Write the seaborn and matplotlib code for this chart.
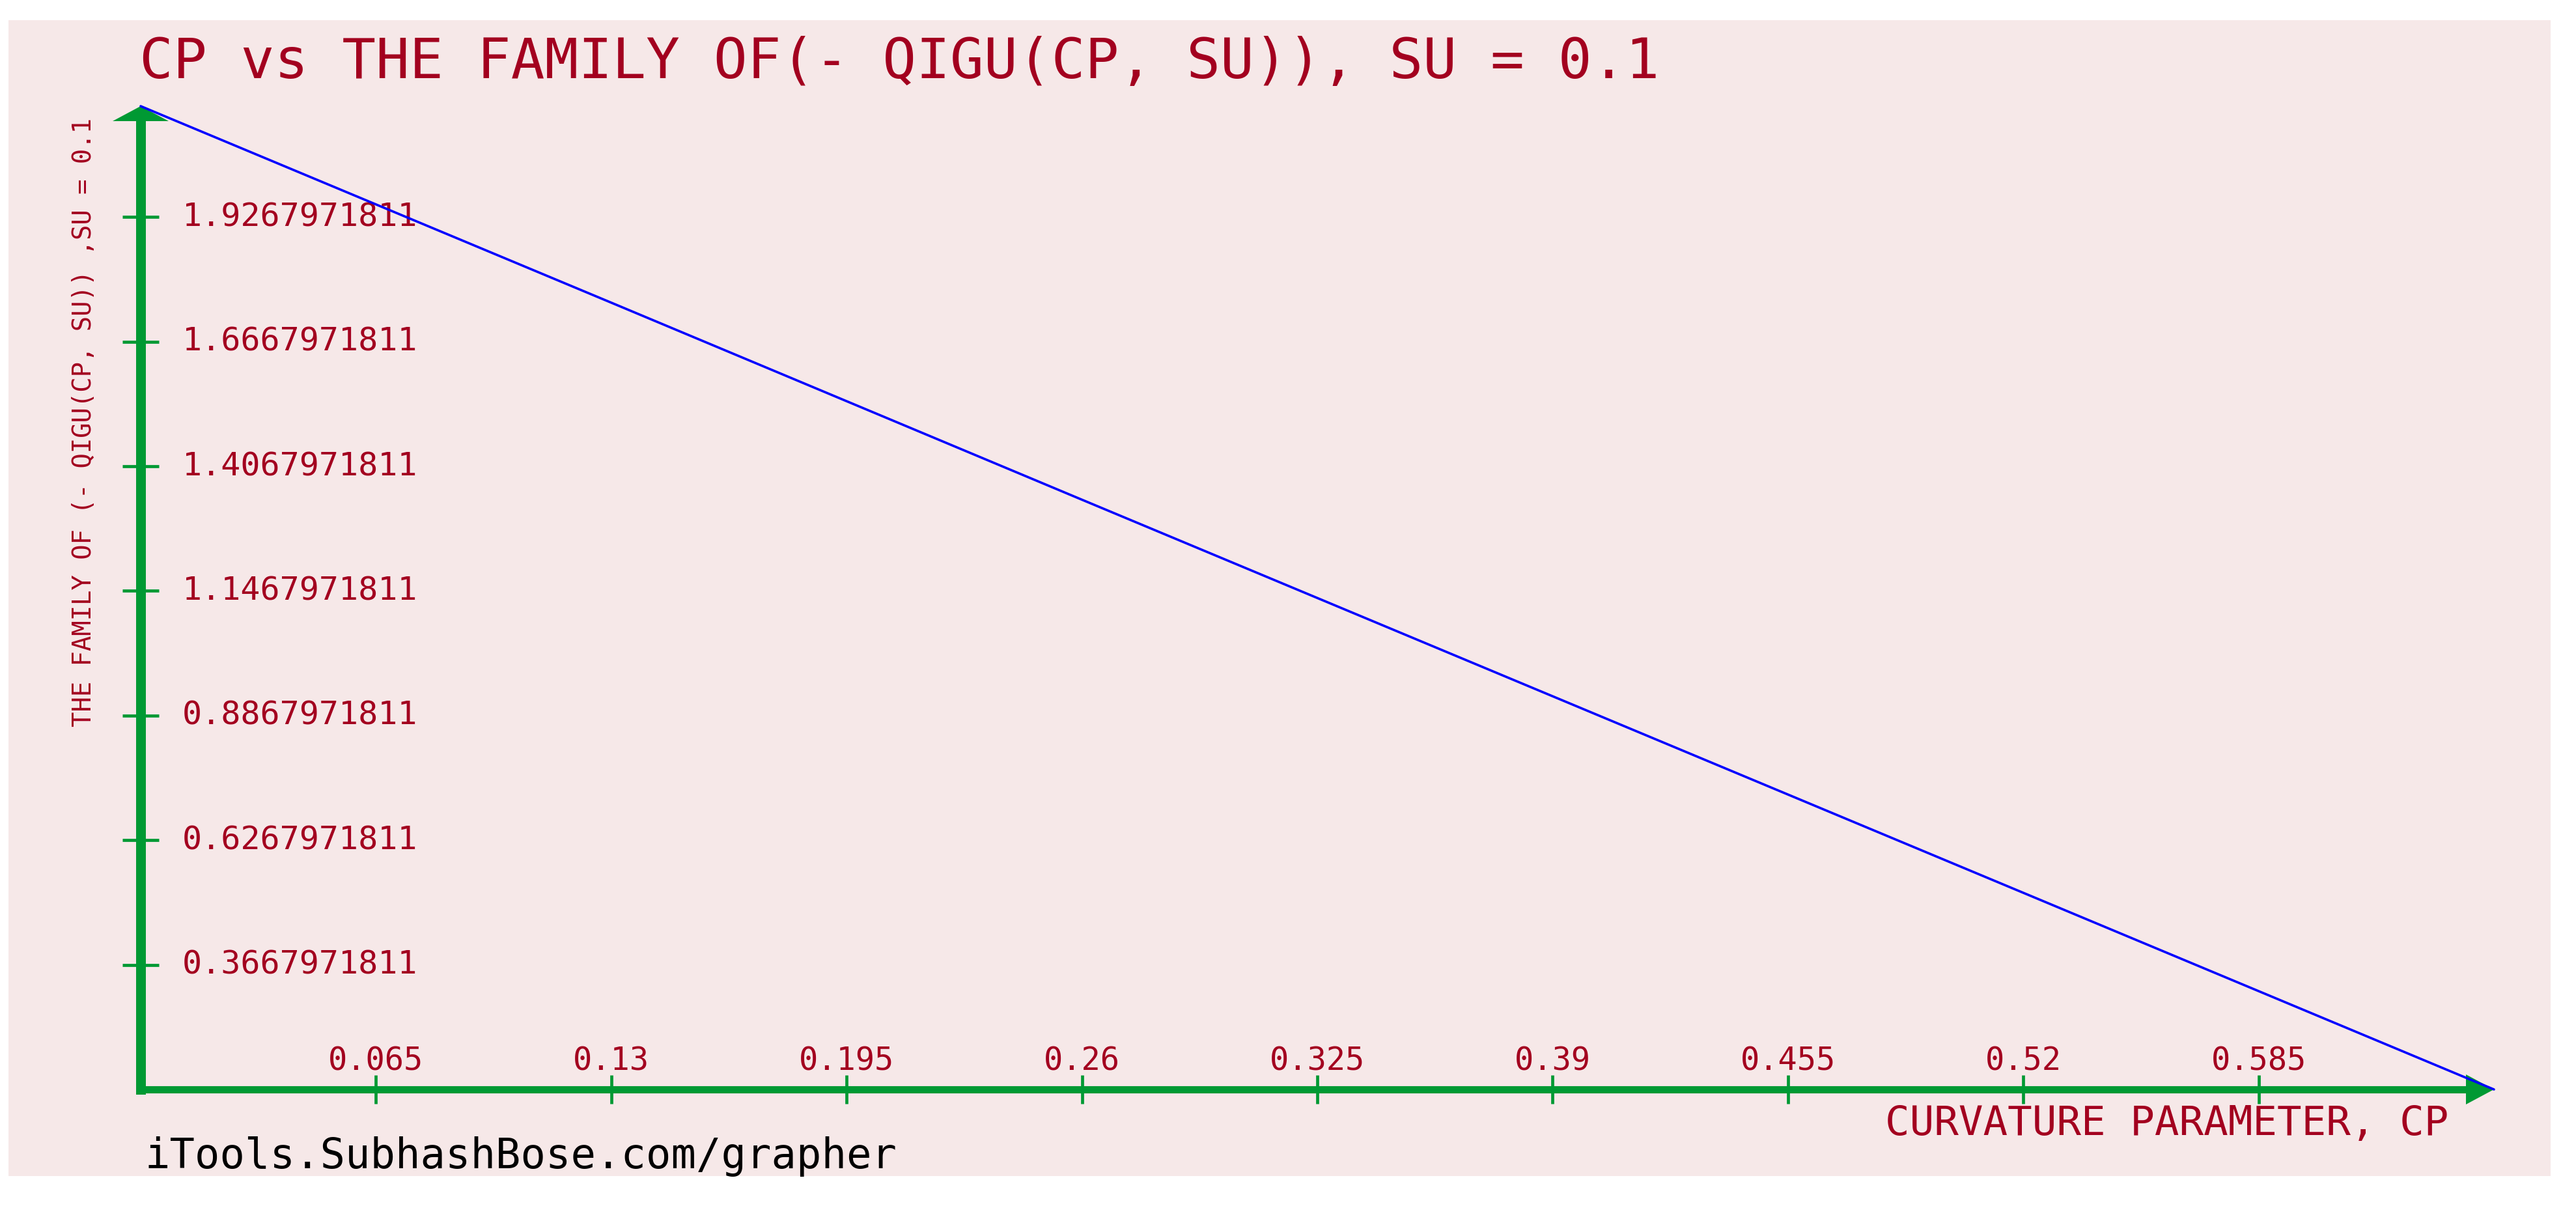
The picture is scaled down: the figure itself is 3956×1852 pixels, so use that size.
import matplotlib
matplotlib.use("Agg")
import matplotlib.pyplot as plt
import seaborn as sns
import pandas as pd
from matplotlib.patches import Polygon, Rectangle

# values
cp = [0.0, 0.13, 0.26, 0.39, 0.52, 0.65]
family_val = [2.158, 1.748, 1.337, 0.927, 0.517, 0.1068]

x_ticks = [0.065, 0.13, 0.195, 0.26, 0.325, 0.39, 0.455, 0.52, 0.585]
x_tick_labels = ["0.065", "0.13", "0.195", "0.26", "0.325", "0.39", "0.455", "0.52", "0.585"]
y_ticks = [0.3667971811, 0.6267971811, 0.8867971811, 1.1467971811,
           1.4067971811, 1.6667971811, 1.9267971811]
y_tick_labels = ["0.3667971811", "0.6267971811", "0.8867971811", "1.1467971811",
                 "1.4067971811", "1.6667971811", "1.9267971811"]
x_lim = (0.0, 0.65)
y_lim = (0.1068, 2.158)

title = "CP vs THE FAMILY OF(- QIGU(CP, SU)), SU = 0.1"
x_label = "CURVATURE PARAMETER, CP"
y_label = "THE FAMILY OF (- QIGU(CP, SU)) ,SU = 0.1"
watermark = "iTools.SubhashBose.com/grapher"

RED = "#A3001F"
GREEN = "#009933"
PINK = "#F6E8E8"

sns.set_style("white")
plt.rcParams["font.family"] = ["DejaVu Sans Mono", "DejaVu Sans"]

W, H = 3956, 1852
fig = plt.figure(figsize=(W / 100, H / 100), dpi=100, facecolor="white")


def fx(px):
    return px / W


def fy(py):
    return 1 - py / H


# pink panel
fig.add_artist(Rectangle((fx(13), fy(1806)), fx(3917) - fx(13), (1806 - 31) / H,
                         transform=fig.transFigure, facecolor=PINK, edgecolor="none", zorder=-10))

x0, x1, y0, y1 = 216, 3830, 1673, 163
ax = fig.add_axes([fx(x0), fy(y0), fx(x1) - fx(x0), (y0 - y1) / H])
ax.set_facecolor("none")

df = pd.DataFrame({"cp": cp, "val": family_val})
sns.lineplot(data=df, x="cp", y="val", ax=ax, color="#0000FF", linewidth=2.6, zorder=5, clip_on=False)

ax.set_xlim(*x_lim)
ax.set_ylim(*y_lim)
ax.set_xlabel("")
ax.set_ylabel("")

for side in ["top", "right"]:
    ax.spines[side].set_visible(False)
ax.spines["left"].set_color(GREEN)
ax.spines["left"].set_linewidth(10.8)
ax.spines["bottom"].set_color(GREEN)
ax.spines["bottom"].set_linewidth(8)
ax.spines["left"].set_capstyle("projecting")
ax.spines["bottom"].set_capstyle("projecting")
# stop spines where the arrow heads start
ax.spines["left"].set_bounds(y_lim[0], y_lim[0] + (y0 - 186) / (y0 - y1) * (y_lim[1] - y_lim[0]))
ax.spines["bottom"].set_bounds(x_lim[0], x_lim[0] + (3787 - x0) / (x1 - x0) * (x_lim[1] - x_lim[0]))

# arrow heads
ax.add_patch(Polygon([(fx(x0 - 43), fy(186)), (fx(x0 + 43), fy(186)), (fx(x0), fy(y1))],
                     closed=True, transform=fig.transFigure, facecolor=GREEN, edgecolor="none",
                     clip_on=False, zorder=3))
ax.add_patch(Polygon([(fx(3787), fy(y0 - 23)), (fx(3787), fy(y0 + 23)), (fx(x1), fy(y0))],
                     closed=True, transform=fig.transFigure, facecolor=GREEN, edgecolor="none",
                     clip_on=False, zorder=3))

ax.set_xticks(x_ticks, labels=x_tick_labels, va="center")
ax.set_yticks(y_ticks, labels=y_tick_labels, ha="left", va="center")
ax.tick_params(axis="x", bottom=True, direction="inout", length=32, width=3.4, color=GREEN,
               labelcolor=RED, labelsize=35, pad=-47)
ax.tick_params(axis="y", left=True, direction="inout", length=40, width=3.4, color=GREEN,
               labelcolor=RED, labelsize=36, pad=-66)
ax.grid(False)

fig.text(fx(214), fy(96), title, ha="left", va="center", fontsize=62, color=RED)
fig.text(fx(3760), fy(1726), x_label, ha="right", va="center", fontsize=45, color=RED)
fig.text(fx(129), fy(649), y_label, ha="center", va="center", fontsize=28, color=RED, rotation=90)
fig.text(fx(222), fy(1776), watermark, ha="left", va="center", fontsize=46, color="black")

fig.savefig("out.png", dpi=100, facecolor="white")
plt.close(fig)
